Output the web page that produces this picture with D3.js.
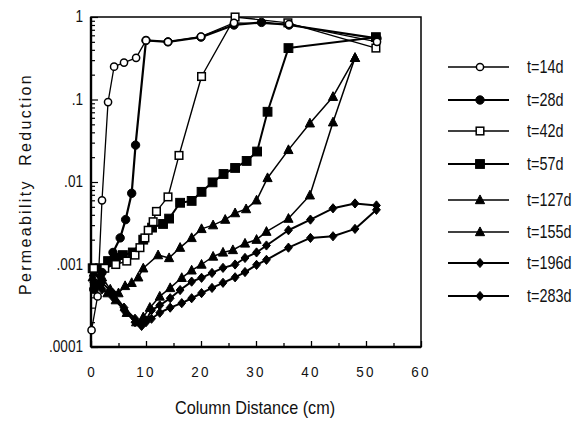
<!DOCTYPE html>
<html><head><meta charset="utf-8">
<script src="https://cdn.jsdelivr.net/npm/d3@7/dist/d3.min.js"></script>
<style>
html,body{margin:0;padding:0;background:#fff;}
svg{display:block;font-family:"Liberation Sans",Arial,Helvetica,sans-serif;}
</style></head>
<body><svg id="chart" width="575" height="421"></svg>
<script>
// ---- data (x = column distance cm, y = permeability reduction) ----
const t14 = [[0.1,0.00016],[1.2,0.00041],[2.0,0.006],[3.1,0.093],[4.2,0.25],[6.0,0.28],[8.2,0.32],[10,0.52],[14,0.5],[20,0.58],[26,0.85],[36,0.82],[52,0.5]];
const t28 = [[0.5,0.0005],[2,0.0008],[4,0.0014],[5.3,0.0021],[6.3,0.0035],[7.4,0.0073],[8.1,0.028],[10,0.52],[14,0.5],[20,0.57],[26,0.8],[31,0.86],[36,0.8],[52,0.55]];
const t42 = [[0.5,0.0009],[2.5,0.0009],[4.5,0.001],[6.5,0.0011],[8,0.0013],[8.9,0.0016],[9.8,0.0021],[10.4,0.0026],[11.3,0.0033],[11.9,0.0044],[14,0.0066],[16,0.021],[20.1,0.19],[26.2,1.0],[35.8,0.85],[51.8,0.42]];
const t57 = [[0.3,0.0009],[1.6,0.0009],[3.1,0.0011],[4.5,0.0012],[5.8,0.0013],[7.6,0.0014],[9.5,0.002],[11.1,0.0028],[13.1,0.0031],[14.2,0.0036],[16.2,0.0056],[18.3,0.0059],[20.1,0.0076],[22.1,0.0099],[24.1,0.0125],[26.2,0.0148],[28.3,0.018],[30.2,0.0234],[32.1,0.071],[35.9,0.42],[51.8,0.57]];
const t127 = [[0.5,0.0008],[2,0.0007],[3.5,0.0005],[5,0.00045],[6.2,0.00055],[7.4,0.0006],[8.6,0.0007],[9.5,0.0009],[12.2,0.0013],[14.2,0.0012],[16.2,0.0016],[18.3,0.0021],[20.1,0.0027],[22.2,0.003],[24.4,0.0035],[26.2,0.0042],[28.2,0.0047],[30.1,0.006],[32.1,0.0112],[35.9,0.0245],[39.8,0.0515],[44,0.108],[48,0.32]];
const t155 = [[0.3,0.0007],[1.5,0.00056],[3,0.00045],[4.5,0.00037],[6.5,0.00026],[8.2,0.0002],[9.5,0.00023],[10.7,0.0003],[12.5,0.00041],[14.4,0.00052],[16.5,0.00069],[18.3,0.00085],[20.1,0.001],[22.2,0.00125],[24,0.0014],[25.8,0.0015],[28,0.0018],[30.1,0.002],[31.9,0.0025],[35.9,0.0036],[39.8,0.0069],[44,0.053],[48,0.32]];
const t196 = [[0.5,0.0006],[2,0.0005],[4,0.0004],[6,0.00028],[8,0.0002],[9.2,0.00018],[10,0.00021],[11,0.00028],[12.5,0.00032],[14.4,0.00039],[16.2,0.00049],[18.3,0.00062],[20.1,0.00069],[22,0.00079],[24,0.00091],[26.2,0.001],[28,0.0012],[30.1,0.0014],[31.9,0.0017],[35.9,0.0026],[39.9,0.0035],[44,0.0048],[48,0.0055],[51.9,0.0052]];
const t283 = [[0.5,0.0008],[2,0.0006],[4,0.00045],[6,0.0003],[8,0.00022],[9,0.00019],[10,0.0002],[11,0.00022],[12.5,0.00026],[14.4,0.0003],[16.5,0.00034],[18.3,0.00039],[20.1,0.00045],[22,0.00052],[24,0.0006],[26.2,0.0007],[28,0.00081],[30.1,0.00099],[31.9,0.00114],[35.9,0.0016],[39.9,0.0021],[44,0.0022],[48,0.0027],[51.9,0.0046]];
const seriesNames = ["t=14d","t=28d","t=42d","t=57d","t=127d","t=155d","t=196d","t=283d"];
const xTicks = [0,10,20,30,40,50,60];
const yTickValues = [0.0001,0.001,0.01,0.1,1];
const yTickLabels = [".0001",".001",".01",".1","1"];

const series = [
  {name:seriesNames[0], data:t14,  marker:"circle",   fill:false, lw:1.3},
  {name:seriesNames[1], data:t28,  marker:"circle",   fill:true,  lw:2.2},
  {name:seriesNames[2], data:t42,  marker:"square",   fill:false, lw:1.4},
  {name:seriesNames[3], data:t57,  marker:"square",   fill:true,  lw:2.0},
  {name:seriesNames[4], data:t127, marker:"triangle", fill:true,  lw:1.5},
  {name:seriesNames[5], data:t155, marker:"triangle", fill:true,  lw:1.5},
  {name:seriesNames[6], data:t196, marker:"diamond",  fill:true,  lw:2.0},
  {name:seriesNames[7], data:t283, marker:"diamond",  fill:true,  lw:2.0}
];

const svg = d3.select("#chart");
const L=91, R=421, T=17, B=347;
const x = d3.scaleLinear().domain([0,60]).range([L,R]);
const y = d3.scaleLog().domain([0.0001,1]).range([B,T]);

// narrow text helper
function ntext(g, tx, ty, str, size, sx, anchor, ls){
  return g.append("text").attr("transform",`translate(${tx},${ty}) scale(${sx},1)`)
    .attr("text-anchor",anchor||"start").attr("font-size",size)
    .attr("letter-spacing",ls||0).attr("fill","#111").text(str);
}

svg.append("defs").append("clipPath").attr("id","clip")
  .append("rect").attr("x",L).attr("y",T).attr("width",R-L).attr("height",B-T);

// frame
svg.append("rect").attr("x",L).attr("y",T).attr("width",R-L).attr("height",B-T)
  .attr("fill","none").attr("stroke","#000").attr("stroke-width",1.5);
svg.append("line").attr("x1",L).attr("x2",L).attr("y1",T).attr("y2",B).attr("stroke","#000").attr("stroke-width",2.4);
svg.append("line").attr("x1",L).attr("x2",R).attr("y1",B).attr("y2",B).attr("stroke","#000").attr("stroke-width",2.4);

// x axis (ticks inward)
const xAxis = d3.axisBottom(x).tickValues(d3.range(0,61,5)).tickSize(-4).tickFormat("");
const gx = svg.append("g").attr("transform",`translate(0,${B})`).call(xAxis);
gx.select(".domain").remove();
gx.selectAll(".tick line").attr("stroke-width",1.3).attr("y2",d=>d%10===0?-6:-4);
const gxl = svg.append("g");
xTicks.forEach(d=>ntext(gxl, x(d), 377, String(d), 15, 0.9, "middle", d>0?2.5:0));

// y axis (log ticks inward)
const yMinor = [];
for (let e=-4;e<0;e++) for (let m=1;m<10;m++) yMinor.push(m*Math.pow(10,e));
yMinor.push(1);
const yAxis = d3.axisLeft(y).tickValues(yMinor).tickSize(-4).tickFormat("");
const gy = svg.append("g").attr("transform",`translate(${L},0)`).call(yAxis);
gy.select(".domain").remove();
gy.selectAll(".tick line").attr("stroke-width",1.2)
  .attr("x2",d=>Math.abs(Math.log10(d)-Math.round(Math.log10(d)))<1e-9?7:4);
const gyl = svg.append("g");
yTickValues.forEach((d,i)=>ntext(gyl, 83, y(d)+5, yTickLabels[i], 16, 0.85, "end"));

// axis titles
ntext(svg, 255, 414, "Column Distance (cm)", 18, 0.9, "middle");
svg.append("text").attr("transform","translate(31,184) rotate(-90)").attr("text-anchor","middle")
  .attr("font-size",16).attr("letter-spacing",2.3).attr("fill","#111").attr("xml:space","preserve")
  .text("Permeability  Reduction");

// markers
function drawMarker(g, type, fill, cx, cy){
  let el;
  if (type==="circle"){
    el = g.append("circle").attr("cx",cx).attr("cy",cy).attr("r",fill?4.2:3.6);
  } else if (type==="square"){
    const h=fill?4.4:3.8;
    el = g.append("rect").attr("x",cx-h).attr("y",cy-h).attr("width",2*h).attr("height",2*h);
  } else if (type==="triangle"){
    const h=4.6;
    el = g.append("path").attr("d",`M${cx},${cy-h*1.1}L${cx+h},${cy+h*0.8}L${cx-h},${cy+h*0.8}Z`);
  } else {
    const h=4.6;
    el = g.append("path").attr("d",`M${cx},${cy-h}L${cx+h*0.85},${cy}L${cx},${cy+h}L${cx-h*0.85},${cy}Z`);
  }
  el.attr("fill",fill?"#000":"#fff").attr("stroke","#000").attr("stroke-width",fill?1:1.5);
}

const line = d3.line().x(d=>x(d[0])).y(d=>y(d[1]));
const plot = svg.append("g").attr("clip-path","url(#clip)");
const order = [7,6,5,4,3,2,1,0];
order.forEach(i=>{
  const s = series[i];
  plot.append("path").datum(s.data).attr("d",line).attr("fill","none")
    .attr("stroke","#000").attr("stroke-width",s.lw).attr("stroke-linejoin","round");
});
order.forEach(i=>{
  const s = series[i];
  const g = svg.append("g");
  s.data.forEach(d=>drawMarker(g,s.marker,s.fill,x(d[0]),y(d[1])));
});

// legend
const legY = [67,100,131,164,200,232,263,296];
const lg = svg.append("g");
series.forEach((s,i)=>{
  const yy = legY[i];
  lg.append("line").attr("x1",448).attr("x2",509).attr("y1",yy).attr("y2",yy)
    .attr("stroke","#000").attr("stroke-width",s.lw);
  drawMarker(lg,s.marker,s.fill,480,yy);
  ntext(lg, 527, yy+6, s.name, 18, 0.8, "start");
});
</script></body></html>
